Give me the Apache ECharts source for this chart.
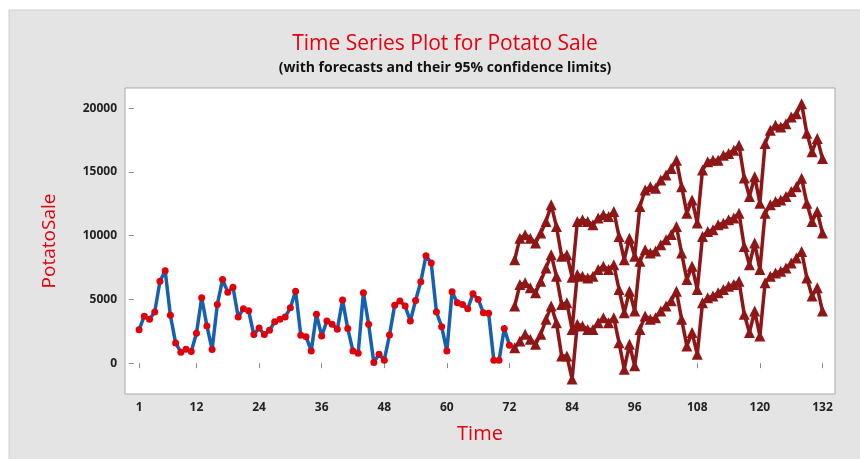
<!DOCTYPE html>
<html>
<head>
<meta charset="utf-8">
<script src="https://cdn.jsdelivr.net/npm/echarts@6/dist/echarts.min.js"></script>
<style>
  html, body { margin: 0; padding: 0; background: #fff; }
  #chart { width: 860px; height: 459px; }
</style>
</head>
<body>
<div id="chart"></div>
<script>
  // observed potato sales, time 1..72
  var observed = [
    2630, 3690, 3440, 4010, 6430, 7260, 3750, 1590, 860, 1090, 910, 2340,
    5130, 2920, 1070, 4610, 6560, 5570, 5960, 3620, 4270, 4110, 2240, 2760,
    2240, 2580, 3250, 3440, 3620, 4350, 5650, 2190, 2080, 960, 3830, 2130,
    3310, 3050, 2660, 4950, 2710, 960, 780, 5520, 3050, 50, 700, 230,
    2210, 4550, 4870, 4480, 3310, 4920, 6380, 8430, 7860, 4010, 2860, 960,
    5600, 4740, 4610, 4270, 5440, 5000, 3960, 3910, 230, 230, 2710, 1400
  ];
  var forecastStart = 73;
  // forecasts, time 73..132
  var forecast = [
    4480, 6170, 6300, 5910, 5520, 6430, 7470, 8510, 6820, 4610, 4740, 2650,
    6950, 6820, 6690, 6820, 7340, 7600, 7340, 7730, 5780, 3960, 5650, 4090,
    8000, 8900, 8640, 8800, 9290, 9680, 10100, 10720, 8640, 6560, 7600, 5780,
    9940, 10330, 10460, 10860, 10980, 11250, 11380, 11770, 9160, 7730, 9430, 7340,
    11770, 12420, 12680, 12810, 13070, 13460, 13850, 14500, 12550, 11110, 11900, 10210
  ];
  var upper = [
    8120, 9810, 10070, 9810, 9430, 10210, 11110, 12420, 10720, 8380, 8510, 6750,
    11110, 11250, 11110, 10860, 11380, 11640, 11510, 11900, 9940, 8120, 9810, 8380,
    12290, 13590, 13850, 13720, 14370, 14760, 15280, 15930, 13850, 11770, 12810, 10990,
    15150, 15800, 15930, 15930, 16320, 16450, 16710, 17100, 14530, 13070, 14630, 12550,
    17230, 18270, 18660, 18530, 18790, 19310, 19570, 20360, 18030, 16580, 17620, 16060
  ];
  var lower = [
    1200, 1740, 2270, 1870, 1480, 2270, 3440, 4480, 3180, 570, 570, -1250,
    3050, 2920, 2650, 2650, 3180, 3570, 3180, 3570, 1610, -470, 1480, -210,
    2650, 3700, 3440, 3570, 4090, 4480, 4900, 5650, 3440, 1350, 2400, 700,
    4740, 5130, 5260, 5520, 5780, 6040, 6170, 6430, 3830, 2400, 4090, 2130,
    6300, 6820, 7080, 7210, 7470, 7860, 8250, 8770, 6690, 5260, 5910, 4090
  ];
  var xTicks = [1, 12, 24, 36, 48, 60, 72, 84, 96, 108, 120, 132];
  var yTicks = [0, 5000, 10000, 15000, 20000];

  function pairs(vals, start) {
    return vals.map(function (v, i) { return [start + i, v]; });
  }

  var myChart = echarts.init(document.getElementById('chart'));
  var darkRed = '#8e1616';
  function fcSeries(name, vals) {
    return {
      name: name,
      type: 'line',
      data: pairs(vals, forecastStart),
      symbol: 'triangle',
      symbolSize: 11,
      itemStyle: { color: darkRed },
      lineStyle: { color: darkRed, width: 3.5 },
      z: 3
    };
  }

  var option = {
    backgroundColor: '#fff',
    animation: false,
    graphic: [{
      type: 'rect',
      shape: { x: 9, y: 10, width: 860, height: 460 },
      style: { fill: '#e4e4e4', stroke: '#d0d0d0' },
      z: -10
    }],
    title: {
      text: 'Time Series Plot for Potato Sale',
      subtext: '(with forecasts and their 95% confidence limits)',
      left: 440,
      textAlign: 'center',
      top: 29,
      itemGap: 6,
      textStyle: { color: '#e3000f', fontSize: 21, fontWeight: 'normal', fontFamily: 'Open Sans' },
      subtextStyle: { color: '#111', fontSize: 14, fontWeight: 'bold', fontFamily: 'Open Sans' }
    },
    grid: {
      left: 125, right: 25, top: 88, bottom: 65,
      show: true,
      backgroundColor: '#fff',
      borderColor: '#a8a8a8',
      borderWidth: 1
    },
    xAxis: {
      type: 'value',
      min: -1.7,
      max: 134.4,
      name: 'Time',
      nameLocation: 'middle',
      nameGap: 30,
      nameTextStyle: { color: '#e3000f', fontSize: 20, fontFamily: 'Open Sans' },
      axisLine: { show: false },
      axisTick: { show: true, customValues: xTicks, length: 5, lineStyle: { color: '#888' } },
      axisLabel: { customValues: xTicks, color: '#222', fontSize: 12, fontWeight: 'bold', fontFamily: 'Open Sans', margin: 8 },
      splitLine: { show: false }
    },
    yAxis: {
      type: 'value',
      min: -2420,
      max: 21590,
      name: 'PotatoSale',
      nameLocation: 'middle',
      nameGap: 66,
      nameTextStyle: { color: '#e3000f', fontSize: 19, fontFamily: 'Open Sans' },
      axisLine: { show: false },
      axisTick: { show: true, customValues: yTicks, length: 5, lineStyle: { color: '#888' } },
      axisLabel: {
        customValues: yTicks,
        formatter: function (v) { return String(v); },
        color: '#222', fontSize: 12, fontWeight: 'bold', fontFamily: 'Open Sans', margin: 8
      },
      splitLine: { show: false }
    },
    series: [
      {
        name: 'PotatoSale',
        type: 'line',
        data: pairs(observed, 1),
        symbol: 'circle',
        symbolSize: 7,
        itemStyle: { color: '#e0000a' },
        lineStyle: { color: '#1560b0', width: 3.5 },
        z: 2
      },
      fcSeries('Upper', upper),
      fcSeries('Forecast', forecast),
      fcSeries('Lower', lower)
    ]
  };
  myChart.setOption(option, true);
</script>
</body>
</html>
